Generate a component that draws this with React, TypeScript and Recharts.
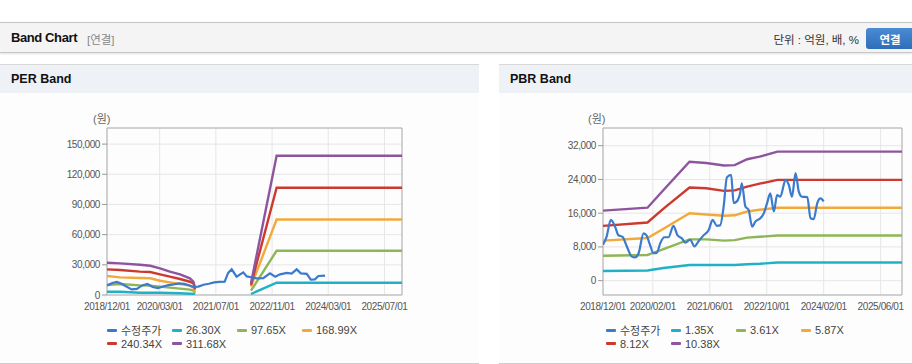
import React from "react";
import { LineChart, Line, XAxis, YAxis, CartesianGrid, ReferenceArea } from "recharts";

// ---- PER band data (x = months since 2018/12) ----
const perXTicks = [0, 15, 31, 47, 63, 79];
const perXLabels = ["2018/12/01", "2020/03/01", "2021/07/01", "2022/11/01", "2024/03/01", "2025/07/01"];
const perYTicks = [0, 30000, 60000, 90000, 120000, 150000];

const perPrice: [number, number][] = [
  [0, 9500], [1.5, 12000], [2.8, 13000], [4, 11500], [5.5, 8500], [7, 5500], [8.5, 6000],
  [10, 9500], [11.5, 11000], [13, 8000], [14.5, 6800], [16, 8500], [17.5, 9800], [19, 10500],
  [20.5, 11500], [22, 11000], [23.5, 9500], [24.5, 8000], [26, 8300], [27.5, 10200], [29, 11200],
  [30.5, 12500], [32, 13000], [33.5, 13200], [34.5, 22000], [35.5, 25500], [36.9, 18200],
  [38.8, 22500], [39.8, 18500], [40.7, 17900], [42.6, 16600], [44.5, 16800], [46.4, 21500],
  [47.9, 18200], [49.3, 20500], [51.2, 21900], [52.6, 21300], [54, 25500], [55.2, 21500],
  [56.9, 21000], [58, 15200], [59.2, 15500], [60.2, 18900], [62.1, 19200],
];

const perBandMonths = [0, 3.7, 9.4, 12.3, 15.1, 17.9, 20.8, 23.6, 24.6, 25.1, 33, 41, 48.3, 84];
const perBand1 = [3300, 3300, 2300, 2300, 2300, 2000, 1700, 1300, 1000, 700, null, 1000, 12200, 12200];
const perBand2 = [9900, 10900, 9600, 9300, 8300, 7300, 6300, 5300, 4300, 2300, null, 4300, 44000, 44000];
const perBand3 = [18900, 17500, 16900, 16600, 14200, 12600, 10900, 9300, 7600, 3300, null, 8300, 75100, 75100];
const perBand4 = [25500, 24800, 23200, 22800, 20500, 18200, 15900, 13200, 11600, 5600, null, 9900, 106600, 106600];
const perBand5 = [32100, 31400, 30100, 29100, 26500, 23200, 20500, 16600, 13200, 6600, null, 11600, 138400, 138400];
const perNames = ["수정주가", "26.30X", "97.65X", "168.99X", "240.34X", "311.68X"];

// ---- PBR band data ----
const pbrXTicks = [0, 14, 30, 46, 62, 78];
const pbrXLabels = ["2018/12/01", "2020/02/01", "2021/06/01", "2022/10/01", "2024/02/01", "2025/06/01"];
const pbrYTicks = [0, 8000, 16000, 24000, 32000];

const pbrPrice: [number, number][] = [
  [0, 8500], [1, 10400], [2.2, 14400], [3.4, 12800], [4.3, 10800], [5.5, 10400], [6.7, 8100],
  [8.1, 5700], [9, 5500], [10, 6500], [11.4, 11200], [12.3, 10600], [13.2, 8500], [14.2, 6500],
  [15.1, 6600], [16.1, 8900], [17.2, 10300], [18.4, 10300], [19.8, 13000], [20.9, 10800],
  [22.2, 10000], [23.1, 9000], [24.5, 9700], [25.7, 8100], [26.8, 9300], [28.3, 10800],
  [29.7, 12000], [30.8, 14400], [32, 13000], [32.9, 13100], [33.9, 17600], [34.8, 24500],
  [36, 25100], [36.7, 18400], [37.6, 18800], [38.6, 21100], [39, 23100], [40, 17600],
  [40.9, 16800], [41.9, 12800], [42.8, 14000], [44.2, 14800], [45.2, 16000], [46.1, 18400],
  [47, 20700], [48, 16400], [48.9, 20300], [49.8, 19900], [51.3, 23900], [52.2, 22700],
  [53.1, 19900], [54.1, 25500], [55, 21100], [55.9, 19900], [57.4, 19800], [58.3, 14800],
  [59.2, 14600], [60.2, 18400], [61.1, 19500], [62, 18800],
];

const pbrBandMonths = [0, 12.5, 17, 24.3, 29, 34, 37, 40.5, 44, 49, 84];
const pbrBand1 = [2300, 2400, 3000, 3700, 3700, 3700, 3700, 3900, 4000, 4300, 4300];
const pbrBand2 = [5900, 6100, 7500, 9800, 9800, 9500, 9600, 10200, 10400, 10700, 10700];
const pbrBand3 = [9500, 10100, 12300, 16000, 15700, 15400, 15500, 16400, 16800, 17300, 17300];
const pbrBand4 = [13000, 13800, 17100, 22100, 21900, 21300, 21400, 22300, 23000, 23900, 23900];
const pbrBand5 = [16600, 17300, 21500, 28200, 27900, 27300, 27400, 28800, 29400, 30600, 30600];
const pbrNames = ["수정주가", "1.35X", "3.61X", "5.87X", "8.12X", "10.38X"];

const COLORS = ["#3b7acc", "#1fb1c7", "#8fb556", "#f2a93b", "#cc3a2f", "#8e559e"];
const FONT = "'Liberation Sans', Arial, 'Noto Sans CJK KR', sans-serif";

const toPts = (arr: [number, number][]) => arr.map(([m, v]) => ({ m, v }));
const toBand = (months: number[], vals: (number | null)[]) => months.map((m, i) => ({ m, v: vals[i] }));

const tickStyle = { fill: "#555", fontSize: 10, fontFamily: FONT, letterSpacing: -0.4 };

interface BandProps {
  left: number;
  width: number;
  right: number;
  xTicks: number[];
  xLabels: string[];
  yTicks: number[];
  yDomain: [number, number];
  price: { m: number; v: number }[];
  bands: { m: number; v: number | null }[][];
  smooth: boolean;
}

function BandChart({ left, width, right, xTicks, xLabels, yTicks, yDomain, price, bands, smooth }: BandProps) {
  return (
    <div style={{ position: "absolute", left, top: 110 }}>
      <LineChart width={width} height={210} margin={{ top: 18, right, bottom: 5, left: 0 }}>
        <CartesianGrid stroke="#e6e6e6" />
        <XAxis
          dataKey="m" type="number" domain={[0, 84]} ticks={xTicks} allowDataOverflow
          tickFormatter={(v: number) => xLabels[xTicks.indexOf(v)] ?? ""}
          tick={tickStyle} axisLine={false} tickLine={false} height={20} interval={0}
        />
        <YAxis
          type="number" domain={yDomain} ticks={yTicks} allowDataOverflow width={57}
          tickFormatter={(v: number) => v.toLocaleString("en-US")}
          tick={tickStyle} axisLine={false} tickLine={{ stroke: "#999" }} tickSize={5} tickMargin={2}
        />
        <ReferenceArea x1={0} x2={84} y1={yDomain[0]} y2={yDomain[1]} fill="none" stroke="#b0b0b0" strokeWidth={1} />
        {bands.map((b, i) => (
          <Line key={i} data={b} dataKey="v" type="linear" stroke={COLORS[i + 1]} strokeWidth={2.4}
            dot={false} activeDot={false} isAnimationActive={false} connectNulls={false} />
        ))}
        <Line data={price} dataKey="v" type={smooth ? "monotone" : "linear"} stroke={COLORS[0]} strokeWidth={2.2}
          dot={false} activeDot={false} isAnimationActive={false} />
      </LineChart>
    </div>
  );
}

function Legend({ left, names }: { left: number; names: string[] }) {
  return (
    <>
      {names.map((n, i) => (
        <div key={n} style={{
          position: "absolute", left: left + (i % 4) * 65, top: 323 + Math.floor(i / 4) * 13.5,
          height: 14, display: "flex", alignItems: "center", fontSize: 11, color: "#444", whiteSpace: "nowrap",
        }}>
          <span style={{ display: "inline-block", width: 10, height: 3, background: COLORS[i], marginRight: 4, borderRadius: 1 }} />
          {n}
        </div>
      ))}
    </>
  );
}

function Panel({ left, width, title }: { left: number; width: number; title: string }) {
  return (
    <div style={{
      position: "absolute", left, top: 64, width, height: 298, background: "#fdfdfd",
      borderTop: "1px solid #d8d8d8", borderBottom: "1px solid #cfcfcf",
    }}>
      <div style={{ height: 28, background: "#eef2f7", display: "flex", alignItems: "center", paddingLeft: 11,
        fontWeight: "bold", fontSize: 12.5, color: "#111" }}>
        {title}
      </div>
    </div>
  );
}

export default function App() {
  return (
    <div style={{ position: "absolute", left: 0, top: 0, width: 912, height: 364, overflow: "hidden",
      background: "#fff", fontFamily: FONT }}>
      {/* top header */}
      <div style={{
        position: "absolute", left: 0, top: 22, width: 912, height: 29, background: "#f4f4f4",
        borderTop: "1px solid #c4c4c4", borderBottom: "1px solid #c8c8c8", boxShadow: "0 1px 2px rgba(0,0,0,0.12)",
      }}>
        <span style={{ position: "absolute", left: 11, top: 7, fontSize: 13, fontWeight: "bold", color: "#111", letterSpacing: -0.4 }}>
          Band Chart
        </span>
        <span style={{ position: "absolute", left: 87, top: 8, fontSize: 11.5, color: "#888" }}>[연결]</span>
        <span style={{ position: "absolute", right: 53, top: 8, fontSize: 11.5, color: "#333" }}>단위 : 억원, 배, %</span>
        <div style={{
          position: "absolute", left: 866, top: 5, width: 48, height: 21, borderRadius: 3,
          background: "linear-gradient(#4a8bd4, #2f6db8)", color: "#fff", fontSize: 11.5, fontWeight: "bold",
          display: "flex", alignItems: "center", justifyContent: "center",
        }}>
          연결
        </div>
      </div>

      <Panel left={0} width={479} title="PER Band" />
      <Panel left={499} width={413} title="PBR Band" />

      <div style={{ position: "absolute", left: 93, top: 110, fontSize: 11, color: "#666" }}>(원)</div>
      <div style={{ position: "absolute", left: 588, top: 110, fontSize: 11, color: "#666" }}>(원)</div>

      <BandChart
        left={50} width={370} right={18} xTicks={perXTicks} xLabels={perXLabels} yTicks={perYTicks} yDomain={[0, 166000]}
        price={toPts(perPrice)} smooth={false}
        bands={[perBand1, perBand2, perBand3, perBand4, perBand5].map((b) => toBand(perBandMonths, b))}
      />
      <BandChart
        left={546} width={366} right={10} xTicks={pbrXTicks} xLabels={pbrXLabels} yTicks={pbrYTicks} yDomain={[-3400, 36200]}
        price={toPts(pbrPrice)} smooth={true}
        bands={[pbrBand1, pbrBand2, pbrBand3, pbrBand4, pbrBand5].map((b) => toBand(pbrBandMonths, b))}
      />

      <Legend left={107} names={perNames} />
      <Legend left={606} names={pbrNames} />
    </div>
  );
}
